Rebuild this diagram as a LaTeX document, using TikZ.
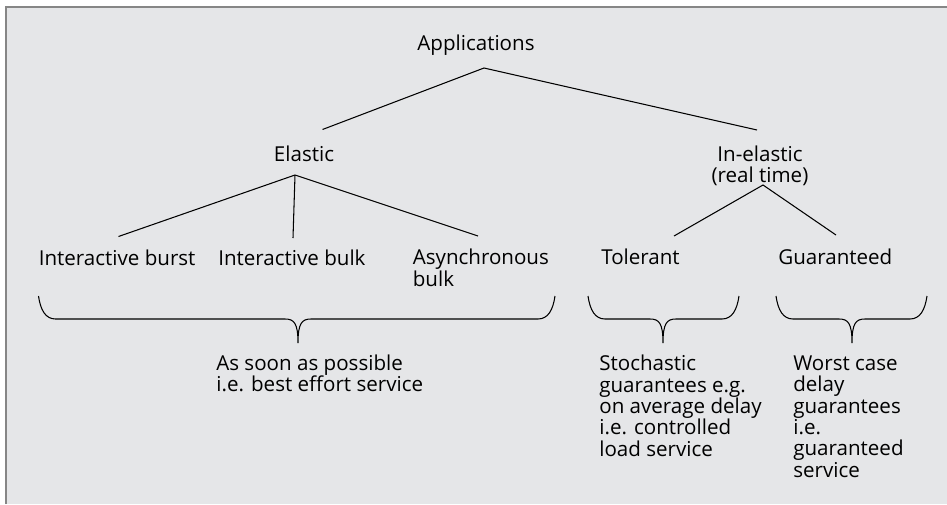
\documentclass[tikz,border=0pt]{standalone}
\usepackage{fontspec}
\setmainfont{Open Sans}
\usepackage{tikz}
\usetikzlibrary{positioning}
\definecolor{panelgray}{HTML}{E5E6E8}
\definecolor{framegray}{HTML}{868686}
\tikzset{lbl/.style = {inner sep = 0, font = \fontsize{11.7}{12.1}\selectfont}}
\tikzset{txt/.style = {lbl, align = left, anchor = base west}}
\tikzset{link/.style = {line width = 0.6pt}}
\newcommand{\svcbrace}[3]{%
  \draw [link] (#1, 296) .. controls (#1+2, 310) and (#1+7, 319) .. (#1+17, 319)
    -- (#3-13, 319) .. controls (#3-4, 319) and (#3, 323) .. (#3, 343)
    .. controls (#3, 323) and (#3+4, 319) .. (#3+13, 319)
    -- (#2-17, 319) .. controls (#2-7, 319) and (#2-2, 310) .. (#2, 296);}

\begin{document}
\begin{tikzpicture}[x=0.02cm, y=-0.02cm]
      \useasboundingbox (0, 0) rectangle (947, 504);
      \fill [panelgray] (6, 7) rectangle (947, 504);
      \draw [framegray, line width = 1.1pt] (6, 504) -- (6, 7) -- (947, 7);

      % multi-line nodes sit on the baseline of their last line
      \node [lbl, anchor = base] (app) at (476, 50) {Applications};
      \node [lbl, anchor = base] (elastic) at (304, 161) {Elastic};
      \node [lbl, anchor = base, align = center] (inelastic) at (760, 182.5) {In-elastic\\(real time)};

      \node [txt] (burst) at (38.5, 265) {Interactive burst};
      \node [txt] (ibulk) at (218, 265) {Interactive bulk};
      \node [txt] (async) at (412.5, 286) {Asynchronous\\bulk};
      \node [txt] (tolerant) at (601, 264.5) {Tolerant};
      \node [txt] (guaranteed) at (778, 264.5) {Guaranteed};

      \node [txt] (asap) at (216, 391.5) {As soon as possible\\i.e. best effort service};
      \node [txt] (stoch) at (599, 456) {Stochastic\\guarantees e.g.\\on average delay\\i.e. controlled\\load service};
      \node [txt] (worst) at (793, 477) {Worst case\\delay\\guarantees\\i.e.\\guaranteed\\service};

      % line ends
      \coordinate (app-out) at (484, 68);
      \coordinate (elastic-in) at (322.5, 129.5);
      \coordinate (inelastic-in) at (757, 130);
      \coordinate (elastic-out) at (295, 175);
      \coordinate (burst-in) at (118.5, 236.5);
      \coordinate (ibulk-in) at (293, 238);
      \coordinate (async-in) at (478, 236);
      \coordinate (inelastic-out) at (763, 185);
      \coordinate (tolerant-in) at (674, 236);
      \coordinate (guaranteed-in) at (836, 235);

      \draw [link] (elastic-in) -- (app-out) -- (inelastic-in);
      \draw [link] (elastic-out) -- (burst-in);
      \draw [link] (elastic-out) -- (ibulk-in);
      \draw [link] (elastic-out) -- (async-in);
      \draw [link] (tolerant-in) -- (inelastic-out) -- (guaranteed-in);

      \svcbrace{38.5}{555}{298}
      \svcbrace{588}{739}{663}
      \svcbrace{776}{927}{852}
    \end{tikzpicture}
\end{document}
